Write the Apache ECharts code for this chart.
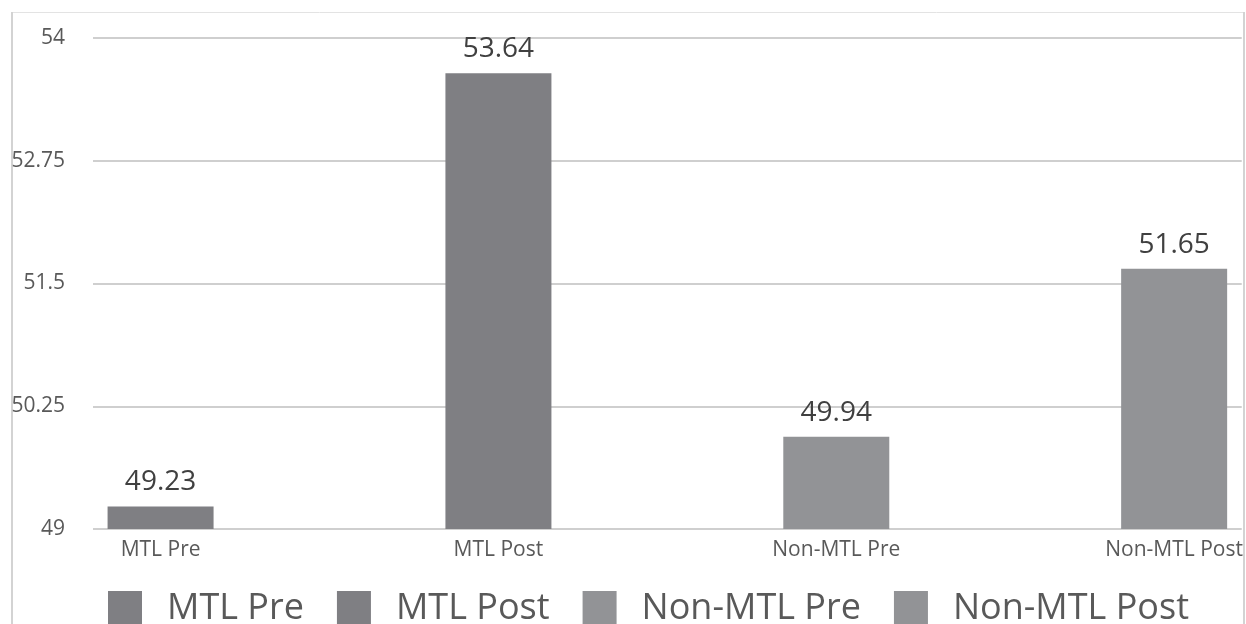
<!DOCTYPE html>
<html>
<head>
<meta charset="utf-8">
<script src="https://cdn.jsdelivr.net/npm/echarts@6/dist/echarts.min.js"></script>
<style>
  html, body { margin: 0; padding: 0; background: #ffffff; }
  #chart { width: 1246px; height: 624px; }
</style>
</head>
<body>
<div id="chart"></div>
<script>
// Group names, one bar each
const categories = ['MTL Pre', 'MTL Post', 'Non-MTL Pre', 'Non-MTL Post'];
// Mean scores per group
const values = [49.23, 53.64, 49.94, 51.65];
// Fill per group: MTL groups darker, Non-MTL groups lighter
const barColors = ['#7f7f83', '#7f7f83', '#929396', '#929396'];
// Value axis range and step
const yMin = 49;
const yMax = 54;
const yStep = 1.25;

const FONT = '"Open Sans", "Noto Sans", sans-serif';

const chart = echarts.init(document.getElementById('chart'), null, { renderer: 'canvas' });

const series = categories.map((name, i) => ({
  type: 'bar',
  name: name,
  data: [[i, values[i]]],
  barWidth: 106,
  barGap: '-100%',
  itemStyle: { color: barColors[i] },
  label: {
    show: true,
    position: 'top',
    distance: 10,
    color: '#404040',
    fontFamily: FONT,
    fontSize: 28,
    formatter: p => p.value[1].toFixed(2)
  },
  emphasis: { disabled: true }
}));

chart.setOption({
  animation: false,
  backgroundColor: '#ffffff',
  grid: { left: 93, right: 3, top: 38, bottom: 95 },
  xAxis: {
    type: 'value',
    min: -0.2,
    max: 3.2,
    interval: 0.2,
    axisLine: { show: false },
    axisTick: { show: false },
    splitLine: { show: false },
    axisLabel: {
      margin: 11,
      color: '#595959',
      fontFamily: FONT,
      fontSize: 21,
      formatter: v => {
        const i = Math.round(v);
        return Math.abs(v - i) < 1e-6 && categories[i] !== undefined ? categories[i] : '';
      }
    }
  },
  yAxis: {
    type: 'value',
    min: yMin,
    max: yMax,
    interval: yStep,
    axisLine: { show: false },
    axisTick: { show: false },
    splitLine: { lineStyle: { color: '#cfcfcf', width: 2 } },
    axisLabel: {
      margin: 28,
      color: '#595959',
      fontFamily: FONT,
      fontSize: 21,
      padding: [0, 0, 6, 0],
      formatter: v => String(v)
    }
  },
  legend: {
    left: 108,
    top: 591,
    padding: 0,
    icon: 'rect',
    itemWidth: 34,
    itemHeight: 36,
    itemGap: 33,
    selectedMode: false,
    data: categories,
    textStyle: {
      color: '#595959',
      fontFamily: FONT,
      fontSize: 36,
      padding: [0, 0, 0, 20]
    }
  },
  graphic: [
    { type: 'line', silent: true, shape: { x1: 11, y1: 12.5, x2: 1245, y2: 12.5 }, style: { stroke: '#e3e3e3', lineWidth: 1 } },
    { type: 'line', silent: true, shape: { x1: 12, y1: 12, x2: 12, y2: 624 }, style: { stroke: '#d3d3d3', lineWidth: 2 } },
    { type: 'line', silent: true, shape: { x1: 1244, y1: 12, x2: 1244, y2: 624 }, style: { stroke: '#d3d3d3', lineWidth: 2 } }
  ],
  series: series
});
</script>
</body>
</html>
